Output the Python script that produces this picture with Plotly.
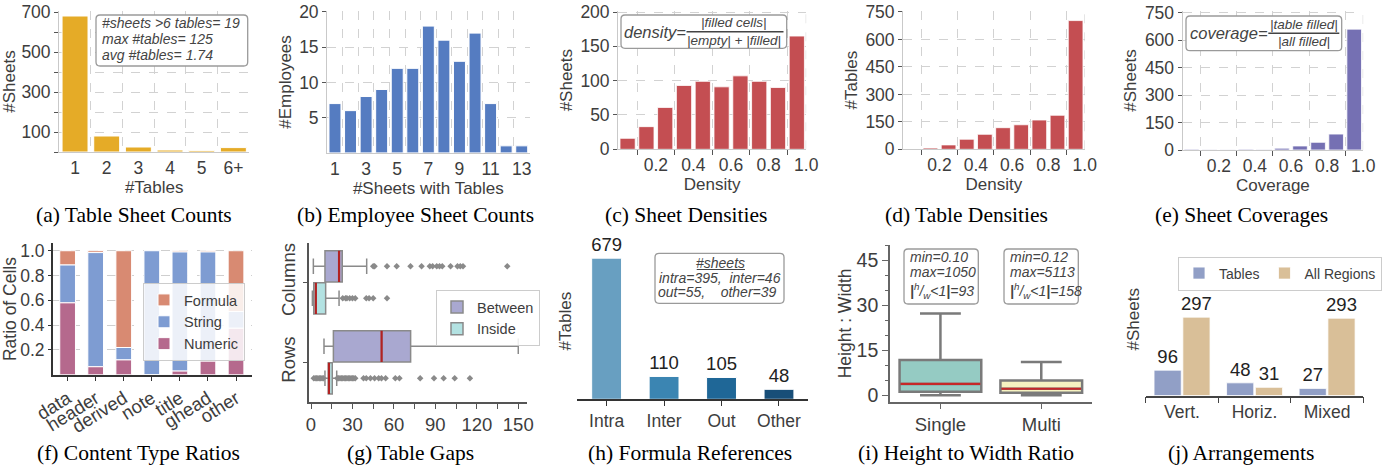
import plotly.graph_objects as go

W, H = 1394, 468
SANS = "Liberation Sans"
SERIF = "Liberation Serif"
TXT = "#3d3d3d"

# ---------------- data ----------------
# (a) Table Sheet Counts
a_labels = ["1", "2", "3", "4", "5", "6+"]
a_pos = [1, 2, 3, 4, 5, 6]
a_counts = [680, 80, 25, 10, 8, 22]
a_note = ["#sheets &gt;6 tables= 19", "max #tables= 125", "avg #tables= 1.74"]

# (b) Employee Sheet Counts
b_pos = [1, 2, 3, 4, 5, 6, 7, 8, 9, 10, 11, 12, 13]
b_counts = [7, 6, 8, 9, 12, 12, 18, 16, 13, 17, 7, 1, 1]
b_ticks = [1, 3, 5, 7, 9, 11, 13]

# (c)(d)(e) histograms over [0, 1]
bin_centers = [0.05, 0.15, 0.25, 0.35, 0.45, 0.55, 0.65, 0.75, 0.85, 0.95]
c_counts = [16, 33, 61, 93, 99, 91, 107, 99, 90, 165]
d_counts = [2, 7, 24, 55, 82, 118, 134, 160, 186, 703]
e_counts = [4, 1, 2, 4, 3, 10, 22, 42, 87, 660]
frac_ticks = [0.2, 0.4, 0.6, 0.8, 1.0]
frac_labels = ["0.2", "0.4", "0.6", "0.8", "1.0"]

# (f) Content Type Ratios
f_types = ["data", "header", "derived", "note", "title", "ghead", "other"]
f_numeric = [0.58, 0.065, 0.12, 0.0, 0.03, 0.11, 0.375]
f_string = [0.305, 0.92, 0.10, 1.0, 0.96, 0.88, 0.135]
f_formula = [0.115, 0.015, 0.78, 0.0, 0.01, 0.01, 0.49]

# (g) Table Gaps (box statistics)
g_groups = ["Columns", "Rows"]
g_group_pos = [1, 0]
g_between = dict(lo=[1.7, 9.4], q1=[10.1, 16.2], med=[20.3, 51.1], q3=[22.6, 72.1], hi=[40.3, 150.0])
g_inside = dict(lo=[1.0, 10.1], q1=[2.0, 12.5], med=[3.5, 13.0], q3=[10.6, 15.4], hi=[20.3, 18.6])
g_out_cols_between = [45, 46, 55, 62, 72, 80, 86, 88, 91, 93, 95, 101, 106, 108, 110, 142]
g_out_cols_inside = [23, 25, 26, 28, 30, 32, 40, 42, 45, 55]
g_out_rows_inside = [2, 3, 4, 5, 6, 7, 8, 9, 19, 20, 21, 22, 23, 24, 25, 26, 27, 28, 29, 30,
                     31, 32, 38, 40, 43, 46, 49, 51, 54, 61, 64, 79, 89, 96, 104, 115]
g_xticks = [0, 30, 60, 90, 120, 150]

# (h) Formula References
h_cats = ["Intra", "Inter", "Out", "Other"]
h_vals = [679, 110, 105, 48]
h_colors = ["#689FC1", "#3B85B2", "#1F6797", "#184E78"]

# (i) Height to Width Ratio
i_cats = ["Single", "Multi"]
i_lo = [0.1, 0.12]
i_q1 = [1.3, 1.0]
i_med = [3.9, 2.3]
i_q3 = [11.8, 5.0]
i_hi = [27.3, 11.2]
i_notes = [["min=0.10", "max=1050", "93"], ["min=0.12", "max=5113", "158"]]

# (j) Arrangements
j_cats = ["Vert.", "Horiz.", "Mixed"]
j_tables = [96, 48, 27]
j_all = [297, 31, 293]

# ---------------- helpers ----------------
def X(px):
    return px / W

def Y(py):
    return 1 - py / H

def names(k):
    s = "" if k == 1 else str(k)
    return "x" + s, "y" + s, "xaxis" + s, "yaxis" + s

doms = {
    1: (59.2, 249.2, 11, 152),
    2: (327.2, 529.5, 11, 152.9),
    3: (618.2, 806.2, 11, 149.3),
    4: (903.2, 1084.7, 11, 149.3),
    5: (1182.7, 1363.2, 11, 150),
    6: (53.3, 252.3, 243.3, 374.8),
    7: (309.3, 526.7, 243.3, 401.7),
    8: (577.3, 808.3, 243, 399.3),
    9: (890, 1091.7, 245, 401.7),
    10: (1145.7, 1363.3, 243, 395.5),
}

GRID = dict(gridcolor="#d2d2d2", griddash="dash", gridwidth=1)
TF = dict(size=17.5, color=TXT, family=SANS)
TT = dict(size=17, color=TXT, family=SANS)

layout = dict(
    width=W, height=H, margin=dict(l=0, r=0, t=0, b=0),
    paper_bgcolor="white", plot_bgcolor="rgba(0,0,0,0)",
    font=dict(family=SANS, color=TXT, size=16),
    barmode="overlay", boxmode="overlay", showlegend=True,
)
for k, (l, r, t, b) in doms.items():
    xn, yn, xk, yk = names(k)
    layout[xk] = dict(domain=[X(l), X(r)], anchor=yn, zeroline=False, showgrid=False,
                      tickfont=TF, automargin=False)
    layout[yk] = dict(domain=[Y(b), Y(t)], anchor=xn, zeroline=False, showgrid=False,
                      tickfont=TF, automargin=False)

fig = go.Figure()
shapes = []
anns = []

def text(x, y, s, size=14, xanchor="center", color=TXT, family=SANS):
    anns.append(dict(x=X(x), y=Y(y), xref="paper", yref="paper", text=s, showarrow=False,
                     xanchor=xanchor, yanchor="middle", align="left",
                     font=dict(size=size, color=color, family=family)))

def rbox(x0, y0, x1, y1, r=4, color="#9a9a9a"):
    pts = [("M", x0 + r, y0), ("L", x1 - r, y0), ("Q", x1, y0, x1, y0 + r), ("L", x1, y1 - r),
           ("Q", x1, y1, x1 - r, y1), ("L", x0 + r, y1), ("Q", x0, y1, x0, y1 - r),
           ("L", x0, y0 + r), ("Q", x0, y0, x0 + r, y0)]
    p = ""
    for seg in pts:
        cmd = seg[0]
        coords = seg[1:]
        pairs = []
        for i in range(0, len(coords), 2):
            pairs.append(f"{X(coords[i]):.6f},{Y(coords[i+1]):.6f}")
        p += cmd + " " + " ".join(pairs) + " "
    p += "Z"
    shapes.append(dict(type="path", xref="paper", yref="paper", path=p,
                       line=dict(color=color, width=1.3), fillcolor="white", layer="above"))

def pline(x0, x1, y, color=TXT, width=1.2):
    shapes.append(dict(type="line", xref="paper", yref="paper", x0=X(x0), x1=X(x1),
                       y0=Y(y), y1=Y(y), line=dict(color=color, width=width), layer="above"))

# ---------------- top row ----------------
top_axes_common_y = dict(showline=True, linecolor="#c9c9c9", linewidth=1.2, ticks="outside",
                         ticklen=4, tickwidth=1.2, tickcolor="#555", showgrid=True, **GRID)
top_axes_common_x = dict(showline=True, linecolor="#c9c9c9", linewidth=1.2)

# (a)
fig.add_bar(x=a_pos, y=a_counts, width=0.82, marker=dict(color="#E5AB27", line=dict(color="white", width=1)),
            xaxis="x", yaxis="y", showlegend=False)
layout["xaxis"].update(top_axes_common_x, range=[0.5, 6.5], tickvals=a_pos, ticktext=a_labels, ticks="",
                       minor=dict(tick0=0.5, dtick=1, showgrid=True, ticks="", **GRID),
                       title=dict(text="#Tables", font=TT, standoff=2))
layout["yaxis"].update(top_axes_common_y, range=[0, 705], tickvals=[100, 300, 500, 700],
                       minor=dict(tick0=0, dtick=100, showgrid=True, ticks="outside", ticklen=4,
                                  tickwidth=1.2, tickcolor="#555", **GRID),
                       title=dict(text="#Sheets", font=TT, standoff=3))

# (b)
fig.add_bar(x=b_pos, y=b_counts, width=0.77, marker=dict(color="#557CC1", line=dict(color="white", width=1)),
            xaxis="x2", yaxis="y2", showlegend=False)
layout["xaxis2"].update(top_axes_common_x, range=[0.5, 13.5], tickvals=b_ticks, ticks="",
                        minor=dict(tick0=0.5, dtick=1, showgrid=True, ticks="", **GRID),
                        title=dict(text="#Sheets with Tables", font=TT, standoff=2))
layout["yaxis2"].update(top_axes_common_y, range=[0, 20.14], tickvals=[5, 10, 15, 20],
                        title=dict(text="#Employees", font=TT, standoff=3))

# (c)(d)(e)
hist_specs = [
    (3, c_counts, "#C44E52", [0, 201.5], [0, 50, 100, 150, 200], "Density", "#Sheets"),
    (4, d_counts, "#C44E52", [0, 755.4], [0, 150, 300, 450, 600, 750], "Density", "#Tables"),
    (5, e_counts, "#7570B3", [0, 759], [0, 150, 300, 450, 600, 750], "Coverage", "#Sheets"),
]
for k, vals, col, yr, yt, xt, ytit in hist_specs:
    xn, yn, xk, yk = names(k)
    fig.add_bar(x=bin_centers, y=vals, width=0.081, marker=dict(color=col, line=dict(color="white", width=0.8)),
                xaxis=xn, yaxis=yn, showlegend=False)
    layout[xk].update(top_axes_common_x, range=[0, 1], tickvals=frac_ticks, ticktext=frac_labels, ticks="",
                      minor=dict(tick0=0.1, dtick=0.2, showgrid=True, ticks="outside", ticklen=5,
                                 tickwidth=1.2, tickcolor="#555", **GRID),
                      title=dict(text=xt, font=TT, standoff=2))
    layout[yk].update(top_axes_common_y, range=yr, tickvals=yt,
                      title=dict(text=ytit, font=TT, standoff=3))
    shapes.append(dict(type="line", xref=xn, yref=yn + " domain", x0=1, x1=1, y0=0, y1=1,
                       line=dict(color="#d2d2d2", width=1, dash="dash"), layer="below"))

# text boxes top row
rbox(96, 15, 247.7, 66)
for i, s in enumerate(a_note):
    text(100, [22.9, 39.4, 55.4][i], "<i>" + s + "</i>", size=14, xanchor="left", color="#444")

rbox(621, 15, 786.7, 48.3)
text(622, 31.8, "<i>density=</i>", size=16.5, xanchor="left", color="#444")
text(734.5, 22.4, "<i>|filled cells|</i>", size=13.5, color="#444")
text(734.5, 40.2, "<i>|empty| + |filled|</i>", size=13.5, color="#444")
pline(686.5, 783.5, 31.7, color="#444", width=1.4)

rbox(1186, 16, 1341.7, 50.7)
text(1187.5, 33.5, "<i>coverage=</i>", size=16.5, xanchor="left", color="#444")
text(1304, 24.2, "<i>|table filled|</i>", size=13.5, color="#444")
text(1304, 41.4, "<i>|all filled|</i>", size=13.5, color="#444")
pline(1268.3, 1339.3, 33.2, color="#444", width=1.4)

# ---------------- (f) ----------------
f_pos = list(range(len(f_types)))
base_string = [n for n in f_numeric]
base_formula = [n + s for n, s in zip(f_numeric, f_string)]
for name, vals, base, col in [("Formula", f_formula, base_formula, "#D88A72"),
                              ("String", f_string, base_string, "#7E9CD2"),
                              ("Numeric", f_numeric, [0] * len(f_types), "#B5698D")]:
    fig.add_bar(x=f_pos, y=vals, base=base, width=0.56, offset=-0.28, name=name,
                marker=dict(color=col, line=dict(color="white", width=1)),
                xaxis="x6", yaxis="y6", legend="legend")
layout["xaxis6"].update(range=[-0.51, 6.58], tickvals=f_pos, ticktext=f_types, tickangle=-32,
                        ticks="outside", ticklen=4, tickwidth=1.3, tickcolor="#333",
                        showline=True, linecolor="#333", linewidth=1.6,
                        tickfont=dict(size=18.5, color=TXT, family=SANS))
layout["yaxis6"].update(range=[0, 1.06], tickvals=[0.2, 0.4, 0.6, 0.8, 1.0],
                        ticktext=["0.2", "0.4", "0.6", "0.8", "1.0"],
                        ticks="outside", ticklen=3.5, tickwidth=1.3, tickcolor="#333",
                        showline=True, linecolor="#333", linewidth=1.6, showgrid=True,
                        gridcolor="#cfcfcf", griddash="dash", gridwidth=1,
                        tickfont=dict(size=17.5, color=TXT, family=SANS),
                        title=dict(text="Ratio of Cells", font=dict(size=17.5, color=TXT, family=SANS), standoff=3))
layout["legend"] = dict(x=X(143), y=Y(283), xanchor="left", yanchor="top",
                        bgcolor="rgba(255,255,255,0.85)", bordercolor="#cccccc", borderwidth=1,
                        font=dict(size=14.5, color=TXT, family=SANS), itemwidth=30, tracegroupgap=0)

# ---------------- (g) ----------------
BOX_W = 0.39
for name, st, off, col, rank in [("Between", g_between, 0.2, "#A9A8D0", 1),
                                 ("Inside", g_inside, -0.2, "#B3E2E2", 2)]:
    pos = [p + off for p in g_group_pos]
    fig.add_trace(go.Box(y=pos, q1=st["q1"], median=st["med"], q3=st["q3"],
                         lowerfence=st["lo"], upperfence=st["hi"], orientation="h",
                         width=BOX_W, whiskerwidth=0.5, boxpoints=False, name=name,
                         fillcolor=col, line=dict(color="#8a8a8a", width=1.5),
                         xaxis="x7", yaxis="y7", legend="legend2", legendrank=rank))
    mx, my = [], []
    for p, m in zip(pos, st["med"]):
        mx += [m, m, None]
        my += [p - BOX_W / 2, p + BOX_W / 2, None]
    fig.add_scatter(x=mx, y=my, mode="lines", line=dict(color="#B22222", width=2.2),
                    xaxis="x7", yaxis="y7", showlegend=False, hoverinfo="skip")
for vals, p in [(g_out_cols_between, g_group_pos[0] + 0.2),
                (g_out_cols_inside, g_group_pos[0] - 0.2),
                (g_out_rows_inside, g_group_pos[1] - 0.2)]:
    fig.add_scatter(x=vals, y=[p] * len(vals), mode="markers",
                    marker=dict(symbol="diamond", size=5, color="#8a8a8a"),
                    xaxis="x7", yaxis="y7", showlegend=False, hoverinfo="skip")
layout["xaxis7"].update(range=[-1.23, 156.1], tickvals=g_xticks,
                        ticks="outside", ticklen=5, tickwidth=1.3, tickcolor="#555",
                        minor=dict(tick0=15, dtick=30, ticks="outside", ticklen=5, tickwidth=1.3, tickcolor="#555"),
                        showline=True, linecolor="#555", linewidth=1.6,
                        tickfont=dict(size=18.5, color=TXT, family=SANS))
layout["yaxis7"].update(range=[-0.4925, 1.4875], tickvals=g_group_pos, ticktext=g_groups, tickangle=-90,
                        ticks="outside", ticklen=5, tickwidth=1.3, tickcolor="#555",
                        showline=True, linecolor="#555", linewidth=1.6,
                        tickfont=dict(size=18.5, color=TXT, family=SANS))
layout["legend2"] = dict(x=X(436), y=Y(290), xanchor="left", yanchor="top",
                         bgcolor="rgba(255,255,255,0.85)", bordercolor="#cccccc", borderwidth=1,
                         font=dict(size=14.5, color=TXT, family=SANS), itemwidth=30, tracegroupgap=0)

# ---------------- (h) ----------------
h_pos = list(range(len(h_cats)))
fig.add_bar(x=h_pos, y=h_vals, width=0.52, text=[str(v) for v in h_vals], textposition="outside",
            textfont=dict(size=18.5, color="#222", family=SANS), constraintext="none", cliponaxis=False,
            marker=dict(color=h_colors, line=dict(color="white", width=1)),
            xaxis="x8", yaxis="y8", showlegend=False)
layout["xaxis8"].update(range=[-0.51, 3.51], tickvals=h_pos, ticktext=h_cats,
                        ticks="outside", ticklen=5, tickwidth=1.3, tickcolor="#333",
                        showline=True, linecolor="#333", linewidth=1.6)
layout["yaxis8"].update(range=[0, 752], showticklabels=False, ticks="", showline=False,
                        title=dict(text="#Tables", font=TT, standoff=0))
rbox(655, 253.3, 784, 303.3)
text(720, 263.0, "<i>#sheets</i>", size=14, color="#444")
pline(696.7, 745, 269.5, color="#444", width=1.2)
text(720, 277.7, "<i>intra=395,\u00a0\u00a0inter=46</i>", size=14, color="#444")
text(718, 292.3, "<i>out=55,\u00a0\u00a0\u00a0\u00a0other=39</i>", size=14, color="#444")

# ---------------- (i) ----------------
I_W = 0.81
for idx, (col, name) in enumerate([("#95CBC3", i_cats[0]), ("#F6F3C1", i_cats[1])]):
    fig.add_trace(go.Box(x=[idx], q1=[i_q1[idx]], median=[i_med[idx]], q3=[i_q3[idx]],
                         lowerfence=[i_lo[idx]], upperfence=[i_hi[idx]], width=I_W, whiskerwidth=0.5,
                         boxpoints=False, fillcolor=col, line=dict(color="#7a7a7a", width=2.5),
                         name=name, xaxis="x9", yaxis="y9", showlegend=False))
    fig.add_scatter(x=[idx - I_W / 2 + 0.01, idx + I_W / 2 - 0.01], y=[i_med[idx], i_med[idx]],
                    mode="lines", line=dict(color="#C62828", width=2.2),
                    xaxis="x9", yaxis="y9", showlegend=False, hoverinfo="skip")
layout["xaxis9"].update(range=[-0.5, 1.5], tickvals=[0, 1], ticktext=i_cats,
                        ticks="outside", ticklen=5, tickwidth=1.3, tickcolor="#666",
                        showline=True, linecolor="#666", linewidth=1.6,
                        tickfont=dict(size=18.5, color=TXT, family=SANS))
layout["yaxis9"].update(range=[-2, 50], tickvals=[0, 15, 30, 45],
                        ticks="outside", ticklen=6, tickwidth=1.3, tickcolor="#666",
                        minor=dict(dtick=5, tick0=0, ticks="outside", ticklen=3, tickwidth=1.2, tickcolor="#666"),
                        showline=True, linecolor="#666", linewidth=1.6,
                        tickfont=dict(size=19.5, color=TXT, family=SANS),
                        title=dict(text="Height : Width", font=dict(size=17.5, color=TXT, family=SANS), standoff=0))
for bx, tx, note in [((904, 249, 978.3, 304), 907.5, i_notes[0]), ((1004, 249, 1078.3, 304), 1008, i_notes[1])]:
    rbox(*bx)
    text(tx, 256.5, "<i>" + note[0] + "</i>", size=14, xanchor="left", color="#444")
    text(tx, 271.7, "<i>" + note[1] + "</i>", size=14, xanchor="left", color="#444")
    text(tx, 290.5, "<i><b>|</b><sup>h</sup>/<sub>w</sub>&lt;1<b>|</b>=" + note[2] + "</i>", size=14,
         xanchor="left", color="#444")

# ---------------- (j) ----------------
j_pos = list(range(len(j_cats)))
for name, vals, off, col in [("Tables", j_tables, -0.385, "#919FC6"), ("All Regions", j_all, 0.012, "#D9BF98")]:
    fig.add_bar(x=j_pos, y=vals, width=0.375, offset=off, name=name,
                text=[str(v) for v in vals], textposition="outside", constraintext="none", cliponaxis=False,
                textfont=dict(size=18.5, color="#222", family=SANS),
                marker=dict(color=col, line=dict(color="white", width=0.8)),
                xaxis="x10", yaxis="y10", legend="legend3")
layout["xaxis10"].update(range=[-0.5, 2.5], tickvals=j_pos, ticktext=j_cats, ticks="",
                         minor=dict(tick0=-0.5, dtick=1, ticks="outside", ticklen=6, tickwidth=1.4, tickcolor="#444"),
                         showline=True, linecolor="#444", linewidth=1.6)
layout["yaxis10"].update(range=[0, 578], showticklabels=False, ticks="", showline=False,
                         title=dict(text="#Sheets", font=TT, standoff=0))
layout["legend3"] = dict(x=X(1178), y=Y(256.5), xanchor="left", yanchor="top", orientation="h",
                         bgcolor="rgba(255,255,255,0.85)", bordercolor="#cccccc", borderwidth=1,
                         font=dict(size=14, color=TXT, family=SANS), itemwidth=30)

# ---------------- captions ----------------
cap_top = ["(a) Table Sheet Counts", "(b) Employee Sheet Counts", "(c) Sheet Densities",
           "(d) Table Densities", "(e) Sheet Coverages"]
cap_bot = ["(f) Content Type Ratios", "(g) Table Gaps", "(h) Formula References",
           "(i) Height to Width Ratio", "(j) Arrangements"]
cap_top_x = [134, 415, 686, 966, 1241]
cap_bot_x = [138, 410, 690, 966, 1241]
for s, cx in zip(cap_top, cap_top_x):
    text(cx, 215, s, size=21.5, color="black", family=SERIF)
for s, cx in zip(cap_bot, cap_bot_x):
    text(cx, 453, s, size=21.5, color="black", family=SERIF)

layout["shapes"] = shapes
layout["annotations"] = anns
fig.update_layout(**layout)
fig.write_html("out.html", config={"displayModeBar": False},
               post_script="document.body.style.margin='0px';document.body.style.overflow='hidden';")
